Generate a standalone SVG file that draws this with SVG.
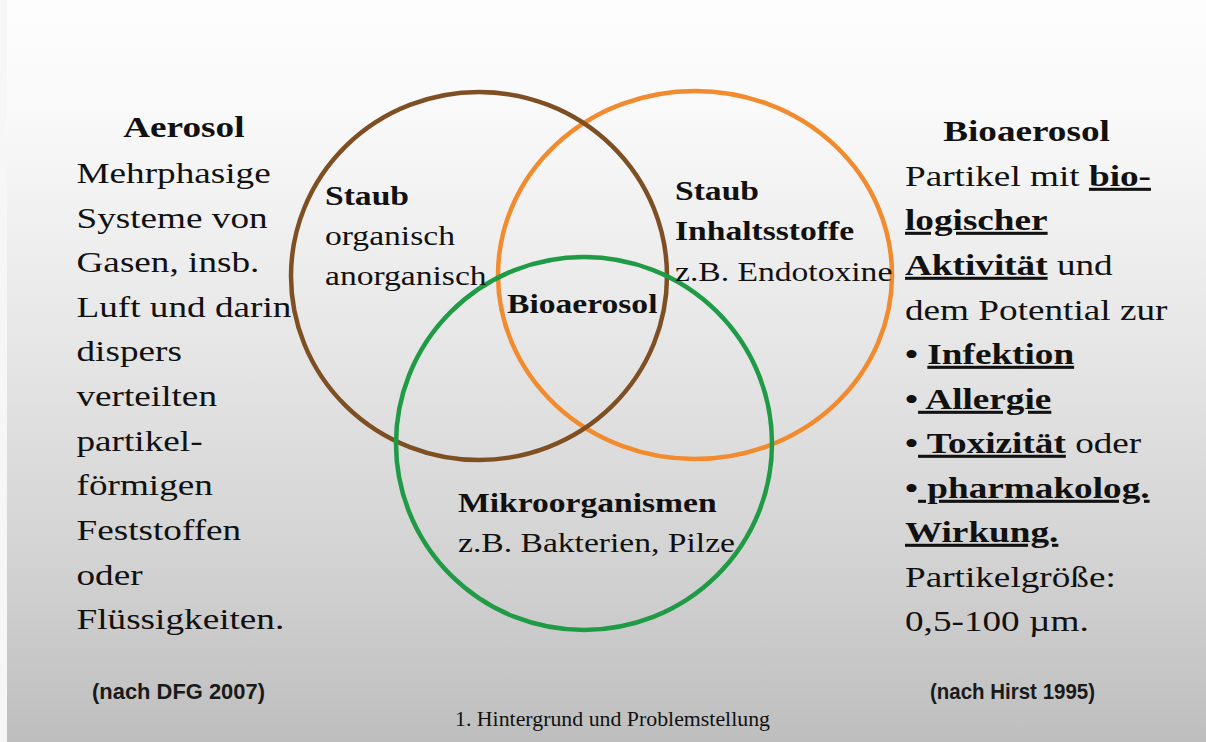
<svg xmlns="http://www.w3.org/2000/svg" width="1206" height="742" viewBox="0 0 1206 742">
<defs>
<linearGradient id="bg" x1="0" y1="0" x2="0" y2="1">
<stop offset="0" stop-color="#fdfdfd"/>
<stop offset="0.15" stop-color="#f9f9f9"/>
<stop offset="0.45" stop-color="#e7e7e7"/>
<stop offset="0.75" stop-color="#d3d3d3"/>
<stop offset="1" stop-color="#bebebe"/>
</linearGradient>
<style>
.t{font-family:"Liberation Serif","Times New Roman",serif;fill:#111;}
.col{font-size:30.5px;}
.mid{font-size:28px;}
.b{font-weight:bold;}
.u{text-decoration:underline;}
.c{text-anchor:middle;}
.src{font-family:"Liberation Sans",Arial,sans-serif;font-size:22px;font-weight:bold;fill:#1a1a1a;}
.foot{font-family:"Liberation Serif","Times New Roman",serif;font-size:20px;fill:#111;}
.ring{fill:none;stroke-width:4.5;}
</style>
</defs>
<rect x="0" y="0" width="1206" height="742" fill="url(#bg)"/>
<rect x="0" y="0" width="7" height="742" fill="#f6f6f6"/>

<g id="connectors">
<ellipse id="ring-staub-bio" class="ring" cx="695" cy="275" rx="197" ry="184" stroke="#f28a2e"/>
<ellipse id="ring-staub" class="ring" cx="479" cy="276" rx="188" ry="184" stroke="#7f4f24"/>
<ellipse id="ring-mikro" class="ring" cx="584" cy="443.5" rx="188" ry="186.5" stroke="#1f9a45"/>
</g>

<g id="aerosol" class="t col" transform="translate(76.5,0) scale(1.22,1)">
<text x="88" y="137" class="b c">Aerosol</text>
<text x="0" y="183">Mehrphasige</text>
<text x="0" y="228">Systeme von</text>
<text x="0" y="272">Gasen, insb.</text>
<text x="0" y="317">Luft und darin</text>
<text x="0" y="361">dispers</text>
<text x="0" y="406">verteilten</text>
<text x="0" y="451">partikel-</text>
<text x="0" y="495">förmigen</text>
<text x="0" y="540">Feststoffen</text>
<text x="0" y="585">oder</text>
<text x="0" y="629">Flüssigkeiten.</text>
</g>

<g id="bioaerosol-def" class="t col" transform="translate(905,0) scale(1.22,1)">
<text x="99.6" y="141" class="b c">Bioaerosol</text>
<text x="0" y="186">Partikel mit <tspan class="b u">bio-</tspan></text>
<text x="0" y="230" class="b u">logischer</text>
<text x="0" y="275"><tspan class="b u">Aktivität</tspan> und</text>
<text x="0" y="320">dem Potential zur</text>
<text x="0" y="364" class="b">• <tspan class="u">Infektion</tspan></text>
<text x="0" y="409" class="b">•<tspan class="u"> Allergie</tspan></text>
<text x="0" y="453"><tspan class="b">•</tspan><tspan class="b u"> Toxizität</tspan> oder</text>
<text x="0" y="498" class="b">•<tspan class="u"> pharmakolog.</tspan></text>
<text x="0" y="542" class="b u">Wirkung.</text>
<text x="0" y="587">Partikelgröße:</text>
<text x="0" y="631">0,5-100 µm.</text>
</g>

<g id="staub" class="t mid" transform="translate(325,0) scale(1.2,1)">
<text x="0" y="205" class="b">Staub</text>
<text x="0" y="245">organisch</text>
<text x="0" y="285">anorganisch</text>
</g>

<g id="staub-inhalt" class="t mid" transform="translate(675,0) scale(1.2,1)">
<text x="0" y="200" class="b">Staub</text>
<text x="0" y="240" class="b">Inhaltsstoffe</text>
<text x="0" y="281">z.B. Endotoxine</text>
</g>

<g id="bioaerosol-center" class="t mid" transform="translate(507,0) scale(1.2,1)">
<text x="0" y="313" class="b">Bioaerosol</text>
</g>

<g id="mikro" class="t mid" transform="translate(458,0) scale(1.2,1)">
<text x="0" y="512" class="b">Mikroorganismen</text>
<text x="0" y="552">z.B. Bakterien, Pilze</text>
</g>

<g id="sources">
<text class="src" x="92" y="699" textLength="173" lengthAdjust="spacingAndGlyphs">(nach DFG 2007)</text>
<text class="src" x="930" y="699" textLength="165" lengthAdjust="spacingAndGlyphs">(nach Hirst 1995)</text>
<text class="foot" x="455" y="726" textLength="315" lengthAdjust="spacingAndGlyphs">1. Hintergrund und Problemstellung</text>
</g>
</svg>
